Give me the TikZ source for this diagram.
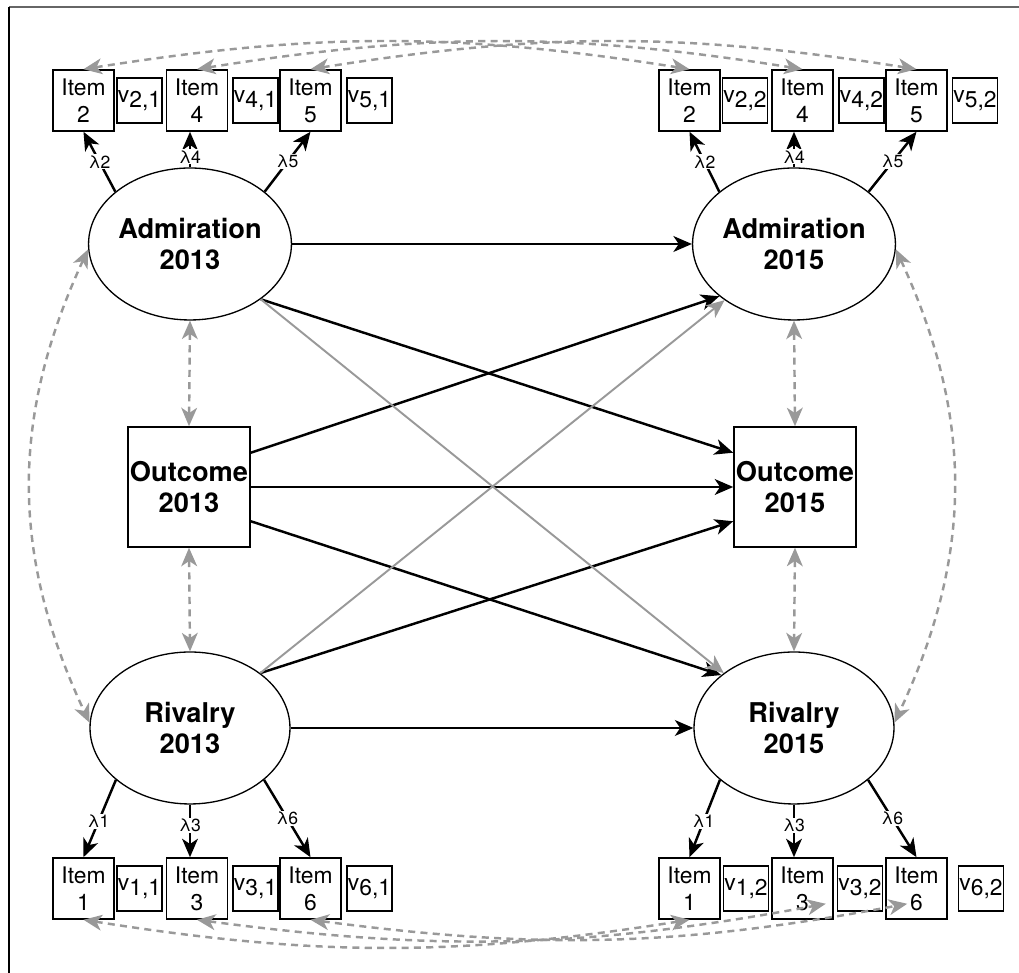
\documentclass[tikz,border=0pt]{standalone}
\usepackage{fontspec}
\setmainfont{TeX Gyre Heros}
\usetikzlibrary{shapes.geometric,arrows.meta}
\tikzset{
    latent/.style={ellipse,draw,line width=0.75pt,minimum width=4cm,minimum height=3.04cm,
        inner sep=0pt,align=center,font=\fontsize{15.5}{17.6}\selectfont\bfseries},
    outcome/.style={rectangle,draw,line width=0.9pt,minimum width=2.44cm,minimum height=2.4cm,
        inner sep=0pt,align=center,font=\fontsize{15.5}{17.6}\selectfont\bfseries},
    item/.style={rectangle,draw,line width=0.9pt,minimum size=1.22cm,inner sep=0pt,
        align=center,font=\fontsize{13}{15.3}\selectfont},
    resid/.style={rectangle,draw,line width=0.7pt,minimum size=0.9cm,inner sep=0pt,
        font=\fontsize{13}{15}\selectfont},
    reg/.style={->,line width=1.4pt},
    cov/.style={<->,line width=1.4pt,dash pattern=on 4pt off 3pt},
    lam/.style={fill=white,inner sep=0.6pt,font=\fontsize{10}{11}\selectfont},
}
\newcommand\Indicator[6]{%
    \node[item] (#1) at (#2,#4) {Item\\#5};
    \node[resid] (#1v) at (#3,#4) {\raisebox{0.45ex}{v}#6};
}
\begin{document}
\begin{tikzpicture}[x=0.02cm,y=0.02cm,>={Stealth[length=10.5pt,width=9pt,inset=3pt]}]
    \useasboundingbox (0,0) rectangle (1019,973);
    \draw[line width=1pt,black!60] (9,966) -- (1019,966);
    \draw[line width=0.6pt] (9,0) -- (9,966);

    \node[latent] (Adm13) at (190,729) {Admiration\\2013};
    \node[latent] (Adm15) at (794,729) {Admiration\\2015};
    \node[latent] (Riv13) at (190,245) {Rivalry\\2013};
    \node[latent] (Riv15) at (794,245) {Rivalry\\2015};
    \node[outcome] (Out13) at (189,486) {Outcome\\2013};
    \node[outcome] (Out15) at (795,486) {Outcome\\2015};

    \Indicator{I2a}{83.5}{139.5}{872.5}{2}{2,1}
    \Indicator{I4a}{197}{255.5}{872.5}{4}{4,1}
    \Indicator{I5a}{310.5}{369.5}{872.5}{5}{5,1}
    \Indicator{I2b}{689.5}{745}{872.5}{2}{2,2}
    \Indicator{I4b}{802.5}{861.5}{872.5}{4}{4,2}
    \Indicator{I5b}{916.5}{975}{872.5}{5}{5,2}
    \Indicator{I1a}{83.5}{139.5}{84.5}{1}{1,1}
    \Indicator{I3a}{197}{255.5}{84.5}{3}{3,1}
    \Indicator{I6a}{310.5}{369.5}{84.5}{6}{6,1}
    \Indicator{I1b}{689.5}{746}{84.5}{1}{1,2}
    \Indicator{I3b}{802.5}{860}{84.5}{3}{3,2}
    \Indicator{I6b}{916.5}{981}{84.5}{6}{6,2}

    % loadings
    \foreach \lat/\a/\b/\c in {Adm13/I2a/I4a/I5a, Adm15/I2b/I4b/I5b} {
        \draw[reg] (\lat.145) -- node[lam] {λ2} (\a.south);
        \draw[reg] (\lat.90) -- node[lam,pos=0.3] {λ4} (\lat.90 |- \b.south);
        \draw[reg] (\lat.35) -- node[lam] {λ5} (\c.south);
    }
    \foreach \lat/\a/\b/\c in {Riv13/I1a/I3a/I6a, Riv15/I1b/I3b/I6b} {
        \draw[reg] (\lat.215) -- node[lam,pos=0.54] {λ1} (\a.north);
        \draw[reg] (\lat.270) -- node[lam,pos=0.4] {λ3} (\lat.270 |- \b.north);
        \draw[reg] (\lat.325) -- node[lam] {λ6} (\c.north);
    }

    % paths
    \draw[reg] (Adm13.east) -- (Adm15.west);
    \draw[reg] (Out13.east) -- (Out15.west);
    \draw[reg] (Riv13.east) -- (Riv15.west);
    \draw[reg] (Adm13.322) -- (Out15.151);
    \draw[reg] (Out13.29) -- (Adm15.215);
    \draw[reg] (Out13.331) -- (Riv15.144);
    \draw[reg] (Riv13.38) -- (Out15.209);
    \begin{scope}[color=black!40] % cross-lagged
        \draw[reg,line width=1.1pt] (Adm13.322) -- (Riv15.142);
        \draw[reg,line width=1.1pt] (Riv13.38) -- (Adm15.219);
    \end{scope}

    \begin{scope}[color=black!40] % covariances
        \draw[cov] (Adm13.south) -- (Out13.north);
        \draw[cov] (Out13.south) -- (Riv13.north);
        \draw[cov] (Adm15.south) -- (Out15.north);
        \draw[cov] (Out15.south) -- (Riv15.north);
        \draw[cov] (Adm13.183) to[bend right=25] (Riv13.177);
        \draw[cov] (Adm15.357) to[bend left=25] (Riv15.3);
        \draw[cov] (I2a.north) to[bend left=9] (I2b.north);
        \draw[cov] (I4a.north) to[bend left=9] (I4b.north);
        \draw[cov] (I5a.north) to[bend left=9] (I5b.north);
        \draw[cov] (I1a.south) to[bend right=9] (I1b.south);
        \draw[cov] (I3a.south) to[bend right=9] ([shift={(-8,16)}]I3b.south east);
        \draw[cov] (I6a.south) to[bend right=9] ([shift={(22,16)}]I6b.south west);
    \end{scope}
\end{tikzpicture}
\end{document}
